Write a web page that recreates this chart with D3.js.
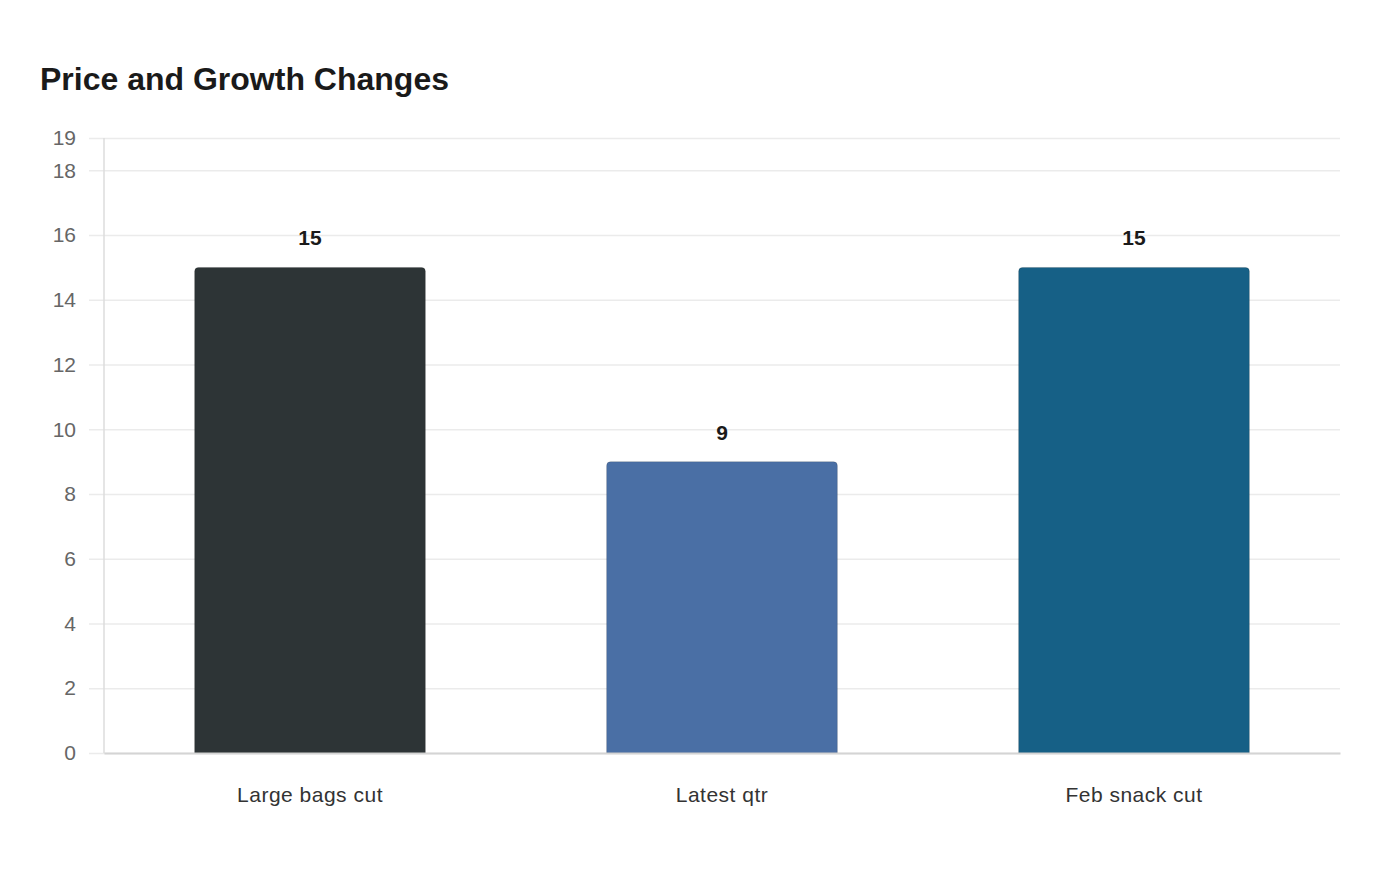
<!DOCTYPE html>
<html>
<head>
<meta charset="utf-8">
<script src="https://cdn.jsdelivr.net/npm/d3@7"></script>
<style>
  body { margin: 0; background: #fff; font-family: "Liberation Sans", Arial, sans-serif; }
</style>
</head>
<body>
<div id="chart"></div>
<script>
const categories = ["Large bags cut", "Latest qtr", "Feb snack cut"];
const values = [15, 9, 15];
const colors = ["#2d3436", "#4a6fa5", "#166086"];
const yTicks = [0, 2, 4, 6, 8, 10, 12, 14, 16, 18, 19];

let width = 1400,
    height = 880,
    margin = ({ top: 138, right: 60, bottom: 127, left: 104 });

const svg = d3.select("#chart")
  .append("svg")
  .attr("width", width)
  .attr("height", height);

svg.append("text")
  .attr("x", 40)
  .attr("y", 90)
  .attr("font-size", 32)
  .attr("font-weight", "bold")
  .attr("fill", "#1a1a1a")
  .text("Price and Growth Changes");

let x = d3.scaleBand()
  .domain(categories)
  .range([margin.left, width - margin.right])
  .paddingInner(0.44)
  .paddingOuter(0.22);

let y = d3.scaleLinear()
  .domain([0, 19])
  .range([height - margin.bottom, margin.top]);

// grid + y axis
const yAxis = svg.append("g")
  .attr("transform", `translate(${margin.left},0)`)
  .call(d3.axisLeft(y).tickValues(yTicks).tickSize(-(width - margin.left - margin.right)).tickPadding(28));
yAxis.select(".domain").remove();
yAxis.selectAll(".tick line")
  .attr("x1", -15)
  .attr("stroke", "#ebebeb")
  .attr("stroke-width", 1.5);
yAxis.selectAll(".tick text")
  .attr("font-size", 21)
  .attr("font-family", "Liberation Sans, Arial, sans-serif")
  .attr("fill", "#666");

// left axis line
svg.append("line")
  .attr("x1", margin.left).attr("x2", margin.left)
  .attr("y1", margin.top).attr("y2", y(0))
  .attr("stroke", "#dcdcdc")
  .attr("stroke-width", 1.5);

// bars with rounded tops
const r = 4;
svg.append("g")
  .selectAll("path")
  .data(values)
  .join("path")
  .attr("d", (d, i) => {
    const x0 = x(categories[i]), x1 = x0 + x.bandwidth();
    const yt = y(d), yb = y(0);
    return `M${x0},${yb} L${x0},${yt + r} Q${x0},${yt} ${x0 + r},${yt} L${x1 - r},${yt} Q${x1},${yt} ${x1},${yt + r} L${x1},${yb} Z`;
  })
  .attr("fill", (d, i) => colors[i])
  .attr("stroke", "rgba(0,0,0,0.15)")
  .attr("stroke-width", 1);

// value labels
svg.append("g")
  .selectAll("text")
  .data(values)
  .join("text")
  .attr("x", (d, i) => x(categories[i]) + x.bandwidth() / 2)
  .attr("y", d => y(d) - 22)
  .attr("text-anchor", "middle")
  .attr("font-size", 21)
  .attr("font-weight", "bold")
  .attr("fill", "#1a1a1a")
  .text(d => d);

// x axis
const xAxis = svg.append("g")
  .attr("transform", `translate(0,${y(0)})`)
  .call(d3.axisBottom(x).tickSize(0).tickPadding(34));
xAxis.select(".domain")
  .attr("stroke", "#d4d4d4")
  .attr("stroke-width", 2);
xAxis.selectAll(".tick text")
  .attr("font-size", 21)
  .attr("letter-spacing", 0.5)
  .attr("font-family", "Liberation Sans, Arial, sans-serif")
  .attr("fill", "#333");
</script>
</body>
</html>
